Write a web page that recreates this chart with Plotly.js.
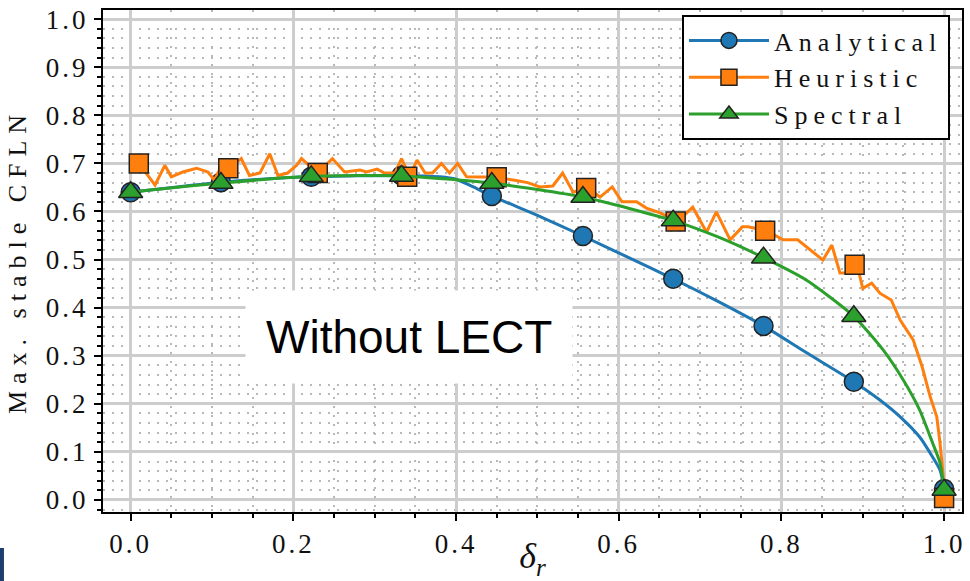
<!DOCTYPE html>
<html>
<head>
<meta charset="utf-8">
<script src="https://cdn.plot.ly/plotly-3.0.1.min.js"></script>
<style>
  html, body { margin: 0; padding: 0; background: #fff; }
  #chart { width: 970px; height: 581px; }
  .legendtext { letter-spacing: 6px; }
  .ytitle { letter-spacing: 7px; }
  .xtick text, .ytick text { letter-spacing: 3px; }
</style>
</head>
<body>
<div id="chart"></div>
<script>
// ---- data ----
const markerX = [0.0, 0.111, 0.222, 0.333, 0.444, 0.556, 0.667, 0.778, 0.889, 1.0];
const analyticalMarkY = [0.640, 0.661, 0.672, 0.675, 0.632, 0.549, 0.460, 0.362, 0.246, 0.023];
const spectralMarkY = [0.640, 0.659, 0.673, 0.674, 0.659, 0.630, 0.581, 0.504, 0.382, 0.021];
const heuristicMarkX = [0.01, 0.12, 0.23, 0.34, 0.45, 0.56, 0.67, 0.78, 0.89, 1.0];
const heuristicMarkY = [0.700, 0.690, 0.680, 0.672, 0.671, 0.649, 0.579, 0.560, 0.489, 0.004];

const analyticalLineX = [0.0, 0.111, 0.222, 0.333, 0.38, 0.40, 0.42, 0.444, 0.5, 0.556, 0.611, 0.667, 0.722, 0.778, 0.831, 0.889, 0.921, 0.946, 0.97, 0.986, 0.995, 1.0];
const analyticalLineY = [0.640, 0.661, 0.672, 0.675, 0.672, 0.667, 0.652, 0.632, 0.592, 0.549, 0.505, 0.460, 0.413, 0.362, 0.306, 0.246, 0.208, 0.173, 0.131, 0.089, 0.062, 0.025];

const spectralLineX = [0.0, 0.111, 0.222, 0.333, 0.444, 0.556, 0.667, 0.722, 0.778, 0.831, 0.889, 0.925, 0.95, 0.97, 0.986, 0.995, 1.0];
const spectralLineY = [0.640, 0.659, 0.673, 0.674, 0.659, 0.630, 0.581, 0.547, 0.504, 0.457, 0.382, 0.312, 0.249, 0.187, 0.118, 0.077, 0.023];

const heuristicLineX = [0.01,0.03,0.042,0.05,0.064,0.081,0.095,0.103,0.112,0.12,0.136,0.146,0.159,0.171,0.181,0.193,0.204,0.21,0.23,0.248,0.263,0.282,0.29,0.303,0.312,0.325,0.333,0.343,0.352,0.362,0.371,0.382,0.392,0.402,0.413,0.427,0.45,0.472,0.488,0.503,0.519,0.531,0.544,0.562,0.577,0.592,0.604,0.622,0.634,0.651,0.672,0.691,0.708,0.72,0.737,0.752,0.759,0.782,0.802,0.82,0.835,0.851,0.862,0.872,0.884,0.893,0.9,0.911,0.921,0.935,0.946,0.962,0.973,0.983,0.991,0.995,0.999,1.0];
const heuristicLineY = [0.70,0.655,0.696,0.672,0.682,0.69,0.682,0.665,0.696,0.69,0.71,0.675,0.68,0.72,0.675,0.68,0.696,0.71,0.68,0.71,0.682,0.686,0.682,0.688,0.68,0.68,0.71,0.672,0.707,0.68,0.68,0.70,0.68,0.70,0.672,0.672,0.671,0.665,0.66,0.651,0.653,0.68,0.64,0.649,0.63,0.651,0.62,0.62,0.607,0.597,0.579,0.609,0.557,0.599,0.541,0.568,0.568,0.56,0.541,0.541,0.52,0.499,0.53,0.472,0.472,0.489,0.44,0.451,0.43,0.416,0.374,0.333,0.277,0.214,0.173,0.118,0.048,0.004];

const seriesNames = ['Analytical', 'Heuristic', 'Spectral'];
const annotationText = 'Without LECT';
const xTitle = '<i>δ<sub>r</sub></i>';
const yTitle = 'Max. stable CFLN';

// ---- styles ----
const colors = ['#1f77b4', '#ff7f0e', '#2ca02c'];
const symbols = ['circle', 'square', 'triangle-up'];
const mSize = 19;
const serif = 'Liberation Serif';

function lineTrace(x, y, i, shape) {
  return { x: x, y: y, type: 'scatter', mode: 'lines', showlegend: false, hoverinfo: 'skip',
    line: { color: colors[i], width: 3, shape: shape, smoothing: 0.6 } };
}
function markTrace(x, y, i) {
  return { x: x, y: y, type: 'scatter', mode: 'markers', showlegend: false,
    marker: { color: colors[i], symbol: symbols[i], size: (i === 2 ? mSize + 2 : mSize), line: { color: '#222', width: 1.5 } } };
}
function legendTrace(i) {
  return { x: [null], y: [null], type: 'scatter', mode: 'lines+markers', name: seriesNames[i],
    line: { color: colors[i], width: 3 },
    marker: { color: colors[i], symbol: symbols[i], size: 16, line: { color: '#222', width: 1.5 } } };
}

const data = [
  lineTrace(analyticalLineX, analyticalLineY, 0, 'spline'),
  markTrace(markerX, analyticalMarkY, 0),
  lineTrace(heuristicLineX, heuristicLineY, 1, 'linear'),
  markTrace(heuristicMarkX, heuristicMarkY, 1),
  lineTrace(spectralLineX, spectralLineY, 2, 'spline'),
  markTrace(markerX, spectralMarkY, 2),
  legendTrace(0), legendTrace(1), legendTrace(2)
];

const axisCommon = {
  showline: true, linecolor: '#000', linewidth: 2, mirror: true,
  ticks: 'outside', ticklen: 7, tickwidth: 2, tickcolor: '#000',
  showgrid: true, gridcolor: '#cdcdcd', gridwidth: 2.5, zeroline: false,
  tickfont: { family: serif, size: 27, color: '#111' },
  tickformat: '.1f'
};
const minorGrid = { ticks: 'outside', ticklen: 4, tickwidth: 1.5, tickcolor: '#000',
  showgrid: true, gridcolor: '#b8b8b8', griddash: '2px,7px', gridwidth: 1.5 };

const layout = {
  width: 970, height: 581,
  margin: { l: 103, r: 8, t: 10, b: 69 },
  paper_bgcolor: '#fff', plot_bgcolor: '#fff',
  xaxis: Object.assign({}, axisCommon, {
    range: [-0.034, 1.022], tick0: 0, dtick: 0.2,
    minor: Object.assign({ dtick: 0.05 }, minorGrid),
    title: { text: xTitle, font: { family: serif, size: 36, color: '#111' }, standoff: 0 }
  }),
  yaxis: Object.assign({}, axisCommon, {
    range: [-0.025, 1.019], tick0: 0, dtick: 0.1,
    minor: Object.assign({ dtick: 0.02 }, minorGrid),
    title: { text: yTitle, font: { family: serif, size: 26, color: '#111' }, standoff: 12 }
  }),
  legend: {
    x: 0.986, xanchor: 'right', y: 0.99, yanchor: 'top',
    bgcolor: '#fff', bordercolor: '#000', borderwidth: 2,
    font: { family: serif, size: 26, color: '#111' },
    itemwidth: 80, tracegroupgap: 0
  },
  annotations: [{
    text: annotationText, xref: 'x', yref: 'y', x: 0.342, y: 0.339,
    showarrow: false, bgcolor: '#fff', borderpad: 20,
    font: { family: 'Liberation Sans', size: 46, color: '#000' }
  }],
  shapes: [{
    type: 'rect', xref: 'paper', yref: 'paper',
    x0: -0.1199, x1: -0.1153, y0: -0.1375, y1: -0.0717,
    fillcolor: '#1d3d6e', line: { width: 0 }
  }]
};

Plotly.newPlot('chart', data, layout, { displayModeBar: false, responsive: false });
</script>
</body>
</html>
